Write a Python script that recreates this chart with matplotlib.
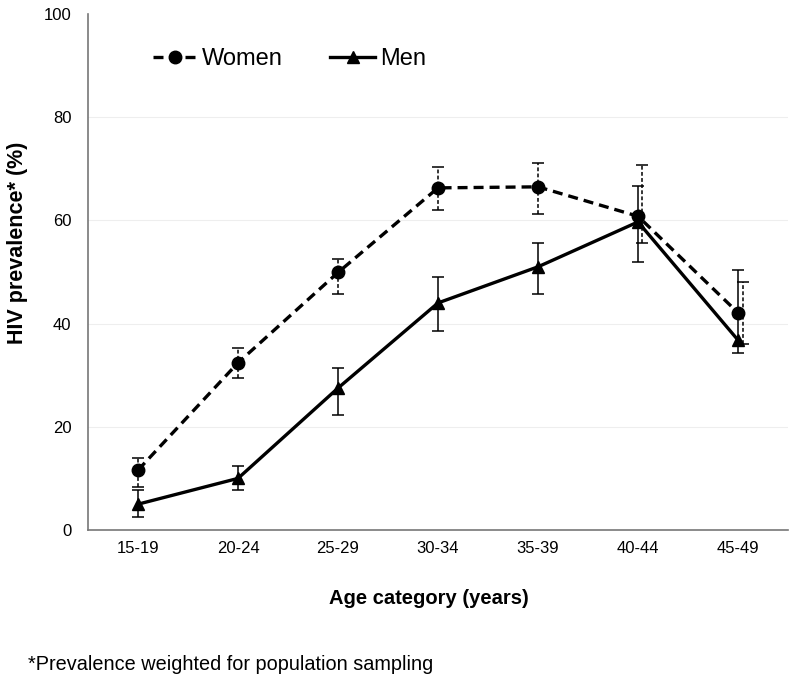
import matplotlib
matplotlib.use("Agg")
import matplotlib.pyplot as plt
import numpy as np

plt.rcParams['font.family'] = ['Liberation Sans', 'DejaVu Sans']

categories = ["15-19", "20-24", "25-29", "30-34", "35-39", "40-44", "45-49"]
women = [11.6, 32.4, 49.9, 66.3, 66.5, 60.8, 42.1]
women_lo = [8.3, 29.5, 45.8, 62.1, 61.3, 55.7, 36.1]
women_hi = [13.9, 35.3, 52.6, 70.3, 71.1, 70.7, 48.1]
men = [5.0, 10.0, 27.5, 44.0, 51.0, 59.7, 36.8]
men_lo = [2.5, 7.8, 22.3, 38.6, 45.8, 52.0, 34.3]
men_hi = [7.8, 12.4, 31.3, 49.1, 55.7, 66.7, 50.4]
women_err_shift = [0, 0, 0, 0, 0, 0.04, 0.05]

fig = plt.figure(figsize=(8, 6.85), dpi=100)
ax = fig.add_axes([0.11, 0.2263, 0.875, 0.7533])

x = np.arange(len(categories))
w = np.array(women); m = np.array(men)

# error bars
eb_w = ax.errorbar(x + np.array(women_err_shift), w,
                   yerr=[w - np.array(women_lo), np.array(women_hi) - w],
                   fmt='none', ecolor='black', elinewidth=1.1, capsize=4.5,
                   capthick=1.1, zorder=3)
for lc in eb_w.lines[2]:
    lc.set_linestyle((0, (2.5, 1.5)))
ax.errorbar(x, m, yerr=[m - np.array(men_lo), np.array(men_hi) - m],
            fmt='none', ecolor='black', elinewidth=1.1, capsize=4.5,
            capthick=1.1, zorder=3)

ax.plot(x, w, linestyle=(0, (3, 1.8)), color='black', linewidth=2.4,
        marker='o', markersize=9, label='Women', zorder=4)
ax.plot(x, m, linestyle='-', color='black', linewidth=2.4,
        marker='^', markersize=9, label='Men', zorder=4)

ax.set_xlim(-0.5, len(categories) - 0.5)
ax.set_ylim(0, 100)
ax.set_yticks([0, 20, 40, 60, 80, 100])
ax.set_xticks(x)
ax.set_xticklabels(categories)
ax.tick_params(axis='both', length=0, labelsize=12, pad=8)
ax.tick_params(axis='y', pad=12)
for yv in [20, 40, 60, 80]:
    ax.axhline(yv, color='#eeeeee', linewidth=0.8, zorder=0)
for s in ['top', 'right']:
    ax.spines[s].set_visible(False)
for s in ['left', 'bottom']:
    ax.spines[s].set_color('#777777')
    ax.spines[s].set_linewidth(1.2)

fig.text(18 / 800, 1 - 243 / 685, 'HIV prevalence* (%)', fontsize=15.5,
         fontweight='bold', rotation=90, ha='center', va='center')
fig.text(429 / 800, 1 - 598 / 685, 'Age category (years)', fontsize=14.5,
         fontweight='bold', ha='center', va='center')
fig.text(0.035, 1 - 665 / 685, '*Prevalence weighted for population sampling',
         fontsize=14.3, ha='left', va='center')

leg = ax.legend(loc='upper left', bbox_to_anchor=(0.062, 0.975), ncol=2,
                frameon=False, fontsize=17, handlelength=1.9, columnspacing=2.0,
                handletextpad=0.2)

fig.savefig('out.png', dpi=100)
